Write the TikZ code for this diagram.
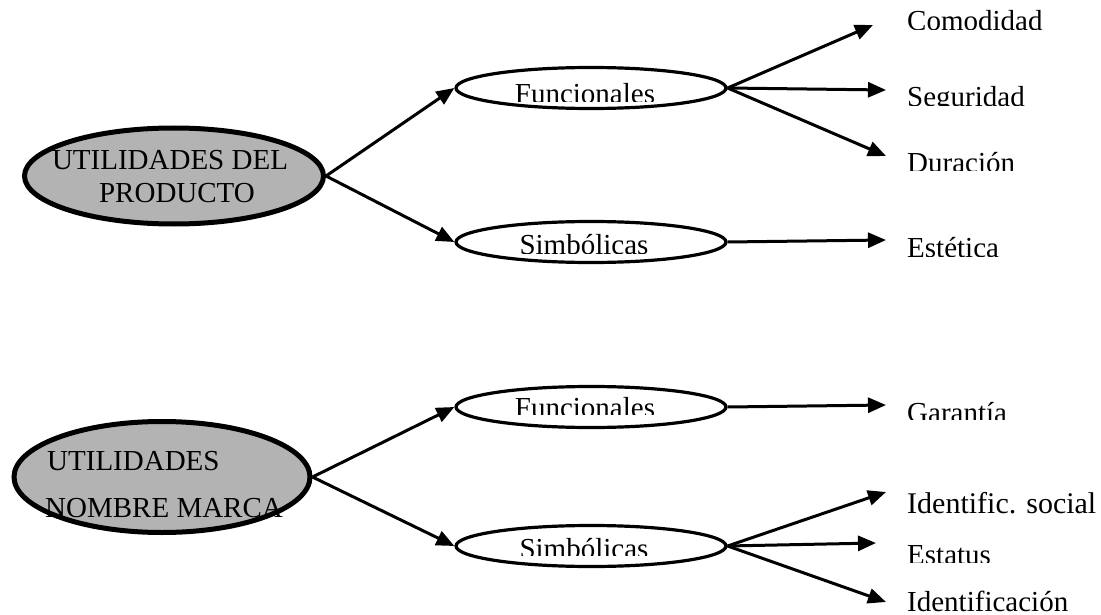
\documentclass[tikz,border=0pt]{standalone}
\usepackage{fontspec}
\setmainfont{Liberation Serif}
\usetikzlibrary{arrows.meta,shapes.geometric}
\definecolor{capsule}{RGB}{179,179,179}
\begin{document}
\begin{tikzpicture}[x=1pt,y=-1pt,
  every node/.style={font=\fontsize{29}{33}\selectfont},
  big/.style={ellipse, draw, line width=5pt, fill=capsule, inner sep=0pt},
  small/.style={ellipse, draw, line width=3.2pt, minimum width=270pt, minimum height=41pt, inner sep=0pt},
  word/.style={anchor=base west, inner sep=0pt},
  mid/.style={anchor=base, inner sep=0pt},
  link/.style={line width=3pt, -{Triangle[length=18pt,width=15pt]}},
]
\useasboundingbox (0,0) rectangle (1101,615);

% ---------- product utilities ----------
\node[big, minimum width=299pt, minimum height=96pt] (p) at (174,176) {};
\node[mid] (p1) at (170,170) {UTILIDADES DEL};
\node[mid] (p2) at (177,202) {PRODUCTO};
\node[small] (f1) at (591,88) {};
\node[small] (s1) at (591,242) {};

\begin{scope}
  \clip (460,60) rectangle (720,102);
  \node[mid] (f1t) at (585,104) {Funcionales};
\end{scope}
\begin{scope}
  \clip (460,220) rectangle (720,253);
  \node[mid] (s1t) at (584,254) {Simbólicas};
\end{scope}

% leaves of the product tree
\begin{scope}
  \clip (895,0) rectangle (1101,30);
  \node[word] (com) at (907,31) {Comodidad};
\end{scope}
\begin{scope}
  \clip (895,80) rectangle (1101,106);
  \node[word] (seg) at (907,107) {Seguridad};
\end{scope}
\begin{scope}
  \clip (895,140) rectangle (1101,171);
  \node[word] (dur) at (907,172) {Duración};
\end{scope}
\begin{scope}
  \clip (895,225) rectangle (1101,256);
  \node[word] (est) at (907,257) {Estética};
\end{scope}

\coordinate (comtip) at (873,25);
\coordinate (segtip) at (886,90);
\coordinate (durtip) at (886,156);
\coordinate (esttip) at (886,240);

\draw[link] (p.east) -- (f1.west);
\draw[link] (p.east) -- (s1.west);
\draw[link] (f1.east) -- (comtip);
\draw[link] (f1.east) -- (segtip);
\draw[link] (f1.east) -- (durtip);
\draw[link] (s1.east) -- (esttip);

% ---------- brand name utilities ----------
\node[big, minimum width=296pt, minimum height=111pt] (m) at (162,477) {};
\node[word] (m1) at (47,470) {UTILIDADES};
\node[word] (m2) at (45,517) {NOMBRE MARCA};
\node[small] (f2) at (591,407) {};
\node[small] (s2) at (591,546) {};

\begin{scope}
  \clip (460,380) rectangle (720,414);
  \node[mid] (f2t) at (585,417) {Funcionales};
\end{scope}
\begin{scope}
  \clip (460,520) rectangle (720,555);
  \node[mid] (s2t) at (584,558) {Simbólicas};
\end{scope}

% leaves of the brand tree
\begin{scope}
  \clip (895,390) rectangle (1101,419);
  \node[word] (gar) at (907,422) {Garantía};
\end{scope}
\node[word, font=\fontsize{30}{34}\selectfont] (ids) at (907,513) {Identific. social};
\begin{scope}
  \clip (895,530) rectangle (1101,562);
  \node[word] (sta) at (907,564) {Estatus};
\end{scope}
\begin{scope}
  \clip (895,580) rectangle (1101,612);
  \node[word] (idf) at (907,611) {Identificación};
\end{scope}

\coordinate (gartip) at (886,405);
\coordinate (idstip) at (886,492);
\coordinate (statip) at (876,543);
\coordinate (idftip) at (886,602);

\draw[link] (m.east) -- (f2.west);
\draw[link] (m.east) -- (s2.west);
\draw[link] (f2.east) -- (gartip);
\draw[link] (s2.east) -- (idstip);
\draw[link] (s2.east) -- (statip);
\draw[link] (s2.east) -- (idftip);
\end{tikzpicture}
\end{document}
